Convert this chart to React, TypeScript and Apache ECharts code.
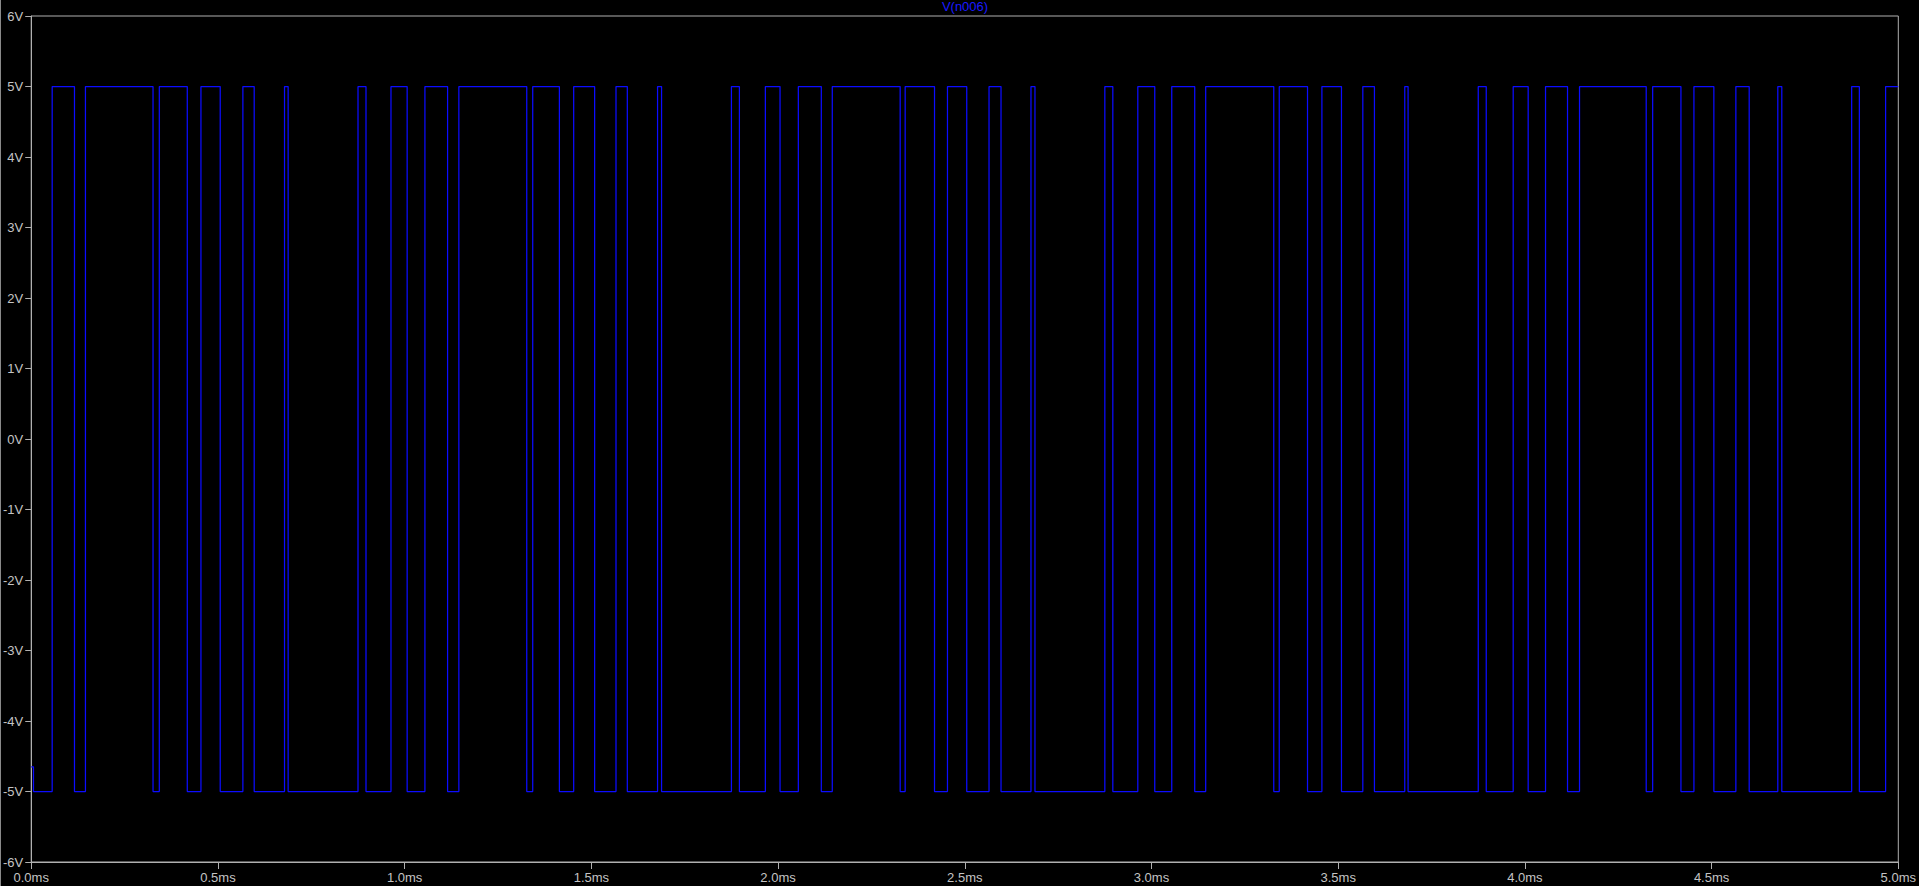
import React, { useEffect, useRef } from "react";
import * as echarts from "echarts";

// Times (ms) at which V(n006) switches from -5V to +5V, and back.
const riseTimes = [
  0.0561, 0.1452, 0.343, 0.4545, 0.5668, 0.6783, 0.8751, 0.9634,
  1.0543, 1.1452, 1.343, 1.4527, 1.566, 1.6773, 1.8751, 1.966,
  2.0543, 2.1452, 2.3404, 2.4537, 2.565, 2.6773, 2.8751, 2.9634,
  3.0543, 3.1452, 3.3422, 3.4564, 3.566, 3.6783, 3.8751, 3.9687,
  4.0553, 4.1463, 4.3422, 4.4527, 4.565, 4.6773, 4.8751, 4.966,
];
const fallTimes = [
  0.1158, 0.3262, 0.4179, 0.5061, 0.5971, 0.688, 0.8965, 1.0067,
  1.115, 1.327, 1.4144, 1.5088, 1.5963, 1.688, 1.8965, 2.0053,
  2.1158, 2.327, 2.419, 2.5053, 2.5971, 2.688, 2.8965, 3.0088,
  3.1158, 3.3275, 3.4179, 3.5088, 3.5971, 3.6872, 3.8965, 4.0088,
  4.1142, 4.3249, 4.4179, 4.5061, 4.6007, 4.688, 4.8957,
];
const startPoints: [number, number][] = [
  [0, -4.65],
  [0.006, -5],
];
const highLevel = 5;
const lowLevel = -5;
const endTime = 5;

const xTicks = ["0.0ms", "0.5ms", "1.0ms", "1.5ms", "2.0ms", "2.5ms", "3.0ms", "3.5ms", "4.0ms", "4.5ms", "5.0ms"];
const yTicks = ["-6V", "-5V", "-4V", "-3V", "-2V", "-1V", "0V", "1V", "2V", "3V", "4V", "5V", "6V"];
const traceName = "V(n006)";

function buildTrace(): [number, number][] {
  const pts: [number, number][] = [...startPoints];
  for (let i = 0; i < riseTimes.length; i++) {
    pts.push([riseTimes[i], highLevel]);
    if (i < fallTimes.length) pts.push([fallTimes[i], lowLevel]);
  }
  const last = pts[pts.length - 1];
  pts.push([endTime, last[1]]);
  return pts;
}

export default function App() {
  const ref = useRef<HTMLDivElement>(null);
  useEffect(() => {
    if (!ref.current) return;
    const chart = echarts.init(ref.current, undefined, { renderer: "svg" });
    const axisColor = "#b0b0b0";
    const labelColor = "#c4c4c4";
    const font = "'Liberation Sans', Arial, sans-serif";
    chart.setOption({
      animation: false,
      backgroundColor: "#000000",
      grid: {
        left: 30,
        right: 19,
        top: 16,
        bottom: 24,
        show: true,
        borderColor: axisColor,
        borderWidth: 1,
        backgroundColor: "#000000",
      },
      graphic: [
        {
          type: "text",
          x: 965,
          y: 0,
          style: {
            text: traceName,
            fill: "#1a1aff",
            font: `13px ${font}`,
            textAlign: "center",
            textVerticalAlign: "top",
          },
        },
        {
          type: "rect",
          shape: { x: 0, y: 0, width: 1, height: 886 },
          style: { fill: "#8a8a8a" },
        },
      ],
      xAxis: {
        type: "value",
        min: 0,
        max: 5,
        interval: 0.5,
        axisLine: { show: true, onZero: false, lineStyle: { color: axisColor, width: 1 } },
        axisTick: { show: true, length: 7, lineStyle: { color: axisColor } },
        splitLine: { show: false },
        axisLabel: {
          color: labelColor,
          fontSize: 13,
          fontFamily: font,
          margin: 9,
          formatter: (v: number) => xTicks[Math.round(v / 0.5)] ?? "",
        },
      },
      yAxis: {
        type: "value",
        min: -6,
        max: 6,
        interval: 1,
        axisLine: { show: true, onZero: false, lineStyle: { color: axisColor, width: 1 } },
        axisTick: { show: true, length: 6, lineStyle: { color: axisColor } },
        splitLine: { show: false },
        axisLabel: {
          color: labelColor,
          fontSize: 13,
          fontFamily: font,
          margin: 8,
          formatter: (v: number) => yTicks[Math.round(v + 6)] ?? "",
        },
      },
      series: [
        {
          name: traceName,
          type: "line",
          step: "end",
          data: buildTrace(),
          showSymbol: false,
          symbol: "none",
          lineStyle: { color: "#0c0cff", width: 1.25 },
        },
      ],
    });
    return () => chart.dispose();
  }, []);
  return (
    <div
      ref={ref}
      style={{ position: "fixed", left: 0, top: 0, width: 1919, height: 886, background: "#000" }}
    />
  );
}
